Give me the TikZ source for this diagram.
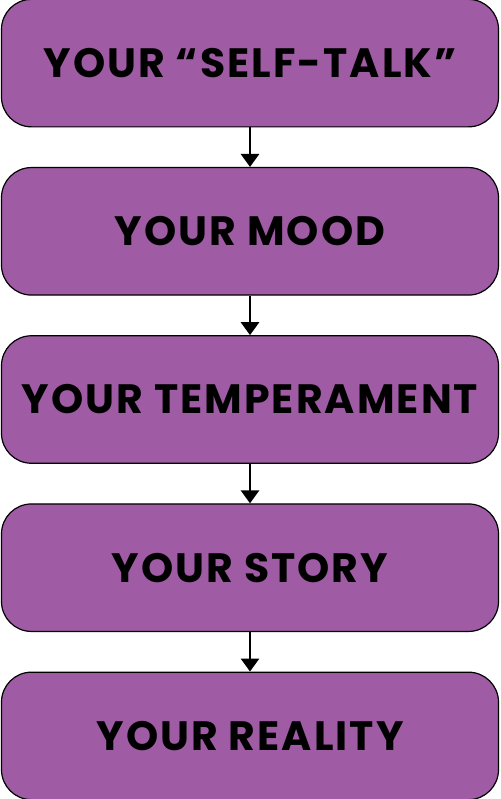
\documentclass[tikz,border=0pt]{standalone}
\usepackage{fontspec}
\setmainfont{Poppins}
\newfontfamily\boxfont{Poppins}[LetterSpace = 5]
\usetikzlibrary{arrows.meta, matrix}
\definecolor{moodpurple}{RGB}{160,91,165}

\begin{document}
\begin{tikzpicture}[stepbox/.style = {draw = black, line width = 1.2pt, fill = moodpurple, rounded corners = 30pt,
      minimum width = 497pt, minimum height = 127.5pt, inner sep = 0pt, font = \boxfont\fontsize{41}{48}\selectfont\bfseries},
    flow/.style = {line width = 2.8pt, -{Triangle[width = 18pt, length = 13pt]}}]
  \useasboundingbox (0,0) rectangle (500pt,-799pt);
  \matrix (m) at (250pt,-399.5pt) [matrix of nodes, row sep = 39.5pt, nodes = {stepbox}]
  {
    YOUR “SELF-TALK” \\
    YOUR MOOD \\
    YOUR TEMPERAMENT \\
    YOUR STORY \\
    YOUR REALITY \\
  };
  \draw[flow] (m-1-1) edge (m-2-1)
              (m-2-1) edge (m-3-1)
              (m-3-1) edge (m-4-1)
              (m-4-1) edge (m-5-1);
\end{tikzpicture}
\end{document}
